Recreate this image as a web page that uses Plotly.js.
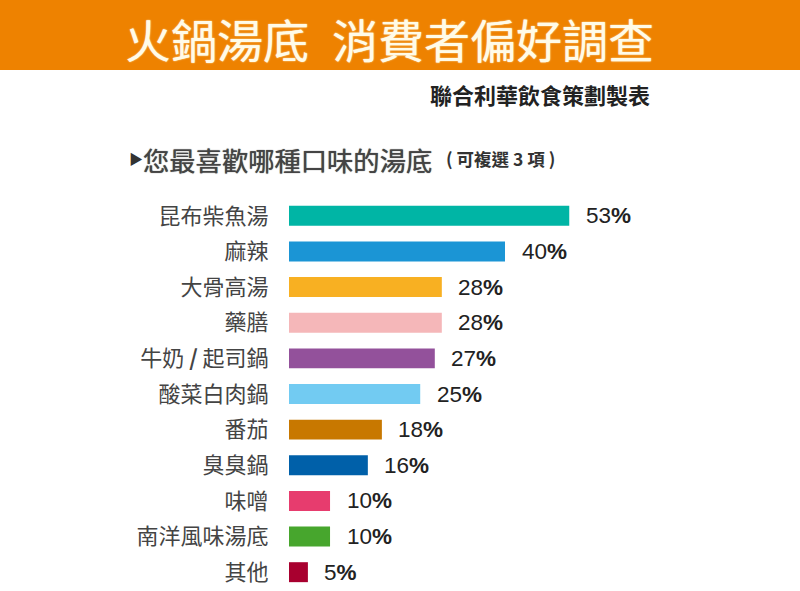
<!DOCTYPE html>
<html><head><meta charset="utf-8">
<script src="https://cdn.plot.ly/plotly-3.0.1.min.js"></script>
<style>html,body{margin:0;padding:0;background:#fff}</style></head>
<body><div id="chart" style="width:800px;height:591px"></div>
<script>
const categories = ["昆布柴魚湯","麻辣","大骨高湯","藥膳","牛奶 / 起司鍋","酸菜白肉鍋","番茄","臭臭鍋","味噌","南洋風味湯底","其他"];
const tickLabels = ["昆布柴魚湯","麻辣","大骨高湯","藥膳","牛奶 <b>/</b> 起司鍋","酸菜白肉鍋","番茄","臭臭鍋","味噌","南洋風味湯底","其他"];
// Percentages printed in the reference
const printedValues = [53,40,28,28,27,25,18,16,10,10,5];
// Bar lengths as drawn in the reference (its bars are not strictly proportional to the printed figures)
const barLengths = [51.9,40,28.3,28.3,27,24.3,17.2,14.6,7.6,7.6,3.5];
const barColors = ["#00b5a5","#1b95d5","#f8b022","#f5b7b9","#93519b","#72cbf2","#c87800","#0060a9","#e73c6e","#47a62d","#a8002f"];
const cjk = '"Noto Sans CJK TC","Liberation Sans",sans-serif';
const lat = '"Liberation Sans","Noto Sans CJK TC",sans-serif';
const H = 392, W = 511;
const px = x => (x - 289) / W, py = y => (590 - y) / H;
const note = (x, y, text, size, color, anchor, family, shadow) => ({
  xref:'paper', yref:'paper', x:px(x), y:py(y), xanchor:anchor, yanchor:'middle',
  text, showarrow:false, font:Object.assign({family:family||cjk, size, color}, shadow?{shadow}:{})
});
const valueNotes = printedValues.map((v,i) => ({
  xref:'x', yref:'y', x:barLengths[i], y:categories[i], xanchor:'left', yanchor:'middle',
  xshift:14.5, yshift:0, showarrow:false, text:v+'<b>%</b>', font:{family:lat,size:22.5,color:'#222'}
}));
Plotly.newPlot('chart',[{
  type:'bar',orientation:'h',x:barLengths,y:categories,
  marker:{color:barColors,line:{width:0}},
  hoverinfo:'skip',width:0.56
}],{
  width:800,height:591,paper_bgcolor:'#fff',plot_bgcolor:'#fff',showlegend:false,
  margin:{l:289,r:0,t:198,b:1,pad:0},
  xaxis:{range:[0,W/5.4],showgrid:false,zeroline:false,showticklabels:false,ticks:'',showline:false},
  yaxis:{type:'category',autorange:false,range:[10.5,-0.5],tickmode:'array',tickvals:categories,ticktext:tickLabels,
    showgrid:false,zeroline:false,ticks:'outside',ticklen:15,tickcolor:'rgba(0,0,0,0)',showline:false,
    tickfont:{family:cjk,size:22,color:'#444'}},
  shapes:[{type:'rect',xref:'paper',yref:'paper',x0:px(0),x1:px(800),y0:py(70),y1:py(0),fillcolor:'#ee8200',line:{width:0},layer:'below'}],
  annotations:[
    note(122.5,38,'火鍋湯底\u2002消費者偏好調查',46,'#fffbe8','left',cjk,'0 0 1.5px #fffbe8'),
    note(652,94,'<b>聯合利華飲食策劃製表</b>',22,'#222','right'),
    note(127,159,'▶',14,'#333','left',lat),
    note(141,159,'您最喜歡哪種口味的湯底',26.3,'#444','left',cjk,'0 0 1px #444'),
    note(444,158,'<b>( 可複選 3 項 )</b>',17.5,'#333','left')
  ].concat(valueNotes)
},{displayModeBar:false,staticPlot:true});
</script></body></html>
